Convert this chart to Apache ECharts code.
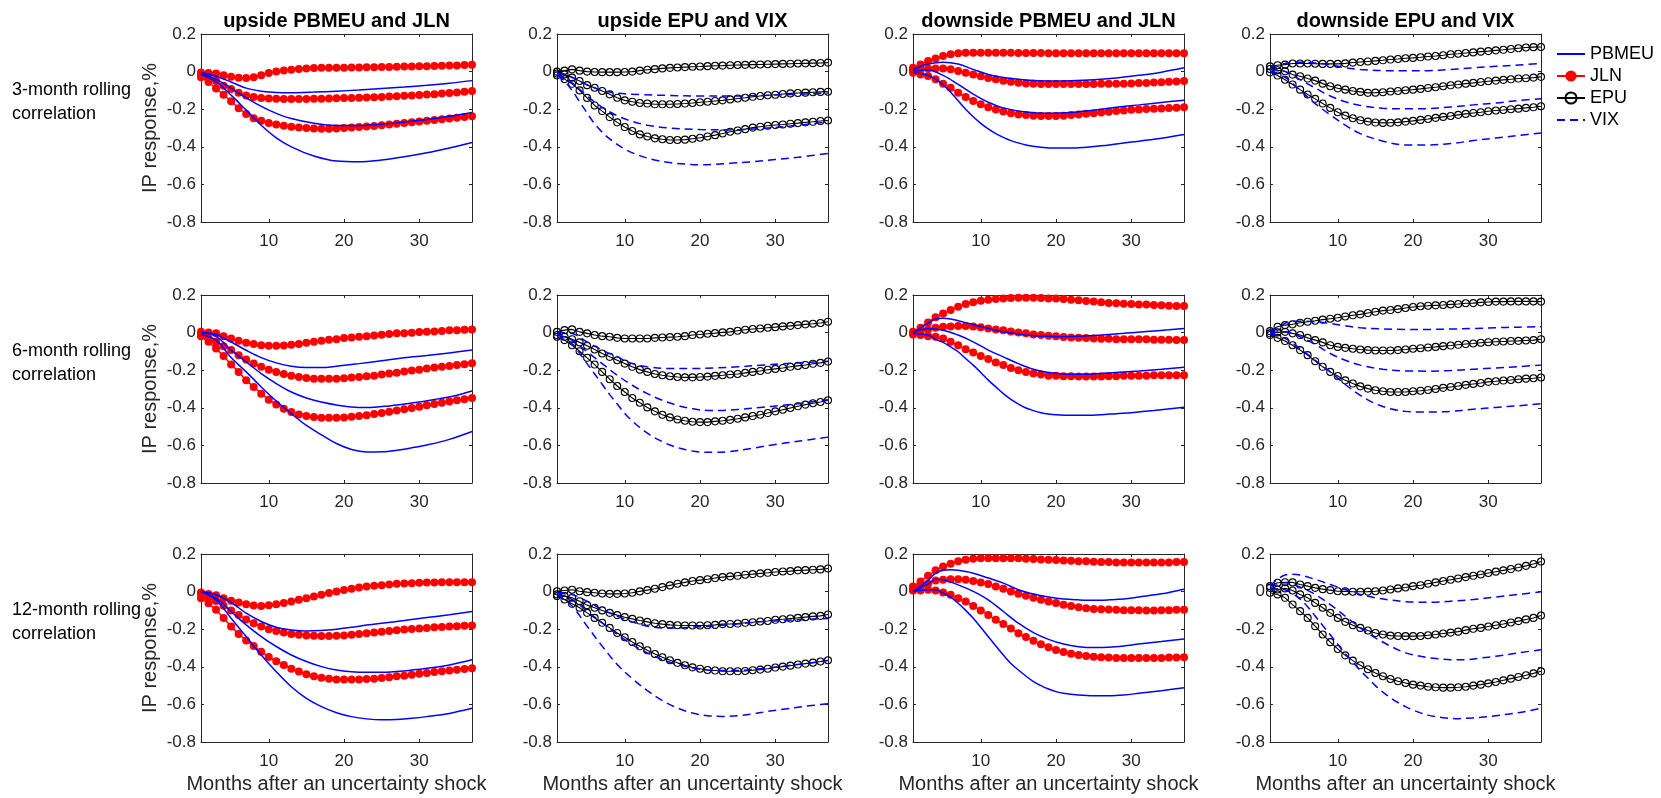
<!DOCTYPE html>
<html><head><meta charset="utf-8">
<script src="https://cdn.jsdelivr.net/npm/echarts@6/dist/echarts.min.js"></script>
<style>html,body{margin:0;padding:0;background:#fff}#c{width:1661px;height:798px}</style>
</head><body><div id="c"></div>
<script>
const months = [1,2,3,4,5,6,7,8,9,10,11,12,13,14,15,16,17,18,19,20,21,22,23,24,25,26,27,28,29,30,31,32,33,34,35,36,37];
const xTicks = [10,20,30];
const colTitles = ['upside PBMEU and JLN','upside EPU and VIX','downside PBMEU and JLN','downside EPU and VIX'];
const rowLabels = ['3-month rolling\ncorrelation','6-month rolling\ncorrelation','12-month rolling\ncorrelation'];
const legendNames = ['PBMEU','JLN','EPU','VIX'];
const yLabel = 'IP response,%';
const xLabel = 'Months after an uncertainty shock';

// ---------- Row 1: 3-month rolling correlation ----------
const r1c1_jln_up  = [-0.005,-0.008,-0.01,-0.02,-0.028,-0.033,-0.034,-0.03,-0.02,-0.008,0.0,0.006,0.01,0.014,0.017,0.019,0.02,0.021,0.021,0.021,0.022,0.022,0.023,0.023,0.024,0.025,0.026,0.027,0.027,0.028,0.029,0.03,0.031,0.032,0.033,0.035,0.037];
const r1c1_jln_mid = [-0.015,-0.03,-0.05,-0.075,-0.093,-0.113,-0.127,-0.135,-0.14,-0.143,-0.145,-0.146,-0.146,-0.146,-0.146,-0.145,-0.144,-0.143,-0.142,-0.141,-0.14,-0.139,-0.138,-0.137,-0.135,-0.133,-0.131,-0.129,-0.127,-0.125,-0.122,-0.12,-0.117,-0.114,-0.111,-0.107,-0.103];
const r1c1_jln_lo  = [-0.03,-0.055,-0.09,-0.123,-0.158,-0.195,-0.225,-0.248,-0.262,-0.274,-0.282,-0.288,-0.293,-0.297,-0.3,-0.302,-0.304,-0.304,-0.302,-0.3,-0.298,-0.295,-0.292,-0.289,-0.286,-0.282,-0.278,-0.274,-0.27,-0.266,-0.262,-0.258,-0.254,-0.25,-0.246,-0.242,-0.237];
const r1c1_pb_up  = [[1,-0.005],[3,-0.025],[5,-0.055],[7,-0.088],[9,-0.104],[11,-0.111],[13,-0.112],[16,-0.109],[19,-0.104],[22,-0.098],[25,-0.09],[28,-0.082],[31,-0.073],[34,-0.062],[37,-0.048]];
const r1c1_pb_mid = [[1,-0.01],[3,-0.04],[5,-0.088],[7,-0.14],[9,-0.185],[11,-0.222],[13,-0.25],[16,-0.275],[19,-0.287],[22,-0.287],[25,-0.28],[28,-0.268],[31,-0.255],[34,-0.238],[37,-0.217]];
const r1c1_pb_lo  = [[1,-0.015],[3,-0.055],[5,-0.125],[7,-0.205],[9,-0.285],[11,-0.352],[13,-0.4],[16,-0.449],[19,-0.476],[22,-0.48],[25,-0.47],[28,-0.453],[31,-0.432],[34,-0.406],[37,-0.377]];

const r1c2_epu_up  = [0.0,0.005,0.012,0.005,0.0,-0.002,-0.003,-0.003,-0.003,-0.002,0.0,0.005,0.01,0.013,0.017,0.02,0.022,0.024,0.026,0.027,0.029,0.031,0.032,0.034,0.035,0.036,0.037,0.038,0.039,0.04,0.041,0.042,0.043,0.044,0.045,0.046,0.048];
const r1c2_epu_mid = [-0.01,-0.015,-0.032,-0.05,-0.072,-0.086,-0.103,-0.121,-0.139,-0.153,-0.16,-0.167,-0.17,-0.174,-0.174,-0.174,-0.172,-0.17,-0.167,-0.163,-0.16,-0.156,-0.153,-0.148,-0.143,-0.139,-0.134,-0.13,-0.126,-0.123,-0.119,-0.116,-0.114,-0.112,-0.11,-0.108,-0.107];
const r1c2_epu_lo  = [-0.02,-0.04,-0.065,-0.1,-0.14,-0.18,-0.21,-0.242,-0.27,-0.295,-0.316,-0.334,-0.345,-0.355,-0.36,-0.364,-0.364,-0.362,-0.357,-0.352,-0.345,-0.338,-0.329,-0.32,-0.313,-0.306,-0.298,-0.293,-0.288,-0.284,-0.281,-0.277,-0.274,-0.27,-0.267,-0.263,-0.26];
const r1c2_vix_up  = [[1,-0.005],[3,-0.03],[5,-0.07],[7,-0.1],[9,-0.115],[12,-0.122],[16,-0.127],[20,-0.13],[24,-0.13],[28,-0.127],[32,-0.122],[37,-0.114]];
const r1c2_vix_mid = [[1,-0.01],[3,-0.06],[5,-0.13],[7,-0.19],[9,-0.235],[11,-0.265],[13,-0.285],[16,-0.3],[20,-0.308],[24,-0.31],[28,-0.303],[32,-0.29],[37,-0.268]];
const r1c2_vix_lo  = [[1,-0.02],[2,-0.05],[3,-0.1],[4,-0.16],[5,-0.22],[6,-0.278],[7,-0.322],[8,-0.358],[10,-0.412],[12,-0.447],[14,-0.47],[16,-0.484],[18,-0.492],[20,-0.495],[22,-0.493],[24,-0.488],[27,-0.479],[30,-0.467],[33,-0.456],[37,-0.435]];

const r1c3_jln_up  = [0.02,0.038,0.056,0.07,0.083,0.092,0.097,0.1,0.1,0.1,0.1,0.1,0.1,0.1,0.099,0.099,0.099,0.099,0.098,0.098,0.097,0.097,0.097,0.097,0.097,0.097,0.097,0.097,0.097,0.097,0.097,0.097,0.097,0.097,0.097,0.097,0.097];
const r1c3_jln_mid = [0.003,0.012,0.017,0.017,0.017,0.012,0.003,-0.006,-0.015,-0.025,-0.034,-0.041,-0.049,-0.054,-0.059,-0.063,-0.065,-0.066,-0.066,-0.066,-0.066,-0.066,-0.066,-0.066,-0.066,-0.065,-0.065,-0.065,-0.064,-0.063,-0.061,-0.06,-0.058,-0.056,-0.054,-0.052,-0.05];
const r1c3_jln_lo  = [-0.006,-0.015,-0.024,-0.041,-0.065,-0.086,-0.112,-0.135,-0.157,-0.174,-0.189,-0.201,-0.212,-0.221,-0.228,-0.231,-0.235,-0.236,-0.236,-0.236,-0.235,-0.231,-0.228,-0.224,-0.221,-0.217,-0.213,-0.21,-0.207,-0.203,-0.201,-0.199,-0.197,-0.196,-0.194,-0.192,-0.189];
const r1c3_pb_up  = [[1,0.01],[3,0.04],[5,0.05],[7,0.04],[9,0.012],[11,-0.015],[13,-0.032],[16,-0.045],[19,-0.05],[22,-0.049],[25,-0.044],[28,-0.034],[31,-0.02],[34,-0.003],[37,0.02]];
const r1c3_pb_mid = [[1,0.0],[3,0.008],[5,-0.02],[7,-0.068],[9,-0.12],[11,-0.163],[13,-0.193],[16,-0.215],[19,-0.222],[22,-0.218],[25,-0.205],[28,-0.19],[31,-0.177],[34,-0.164],[37,-0.152]];
const r1c3_pb_lo  = [[1,-0.005],[3,-0.02],[4,-0.04],[5,-0.07],[6,-0.11],[7,-0.155],[8,-0.2],[9,-0.24],[10,-0.275],[11,-0.305],[12,-0.33],[13,-0.35],[14,-0.367],[16,-0.39],[18,-0.402],[20,-0.407],[22,-0.407],[24,-0.402],[26,-0.395],[28,-0.385],[30,-0.375],[33,-0.36],[37,-0.334]];

const r1c4_epu_up  = [0.028,0.034,0.037,0.043,0.043,0.043,0.042,0.041,0.041,0.041,0.044,0.048,0.051,0.054,0.057,0.06,0.064,0.067,0.071,0.073,0.076,0.08,0.083,0.087,0.092,0.095,0.099,0.102,0.106,0.109,0.113,0.116,0.12,0.124,0.128,0.13,0.131];
const r1c4_epu_mid = [0.014,0.007,0.002,-0.016,-0.025,-0.037,-0.048,-0.064,-0.078,-0.089,-0.096,-0.103,-0.108,-0.113,-0.112,-0.11,-0.106,-0.103,-0.099,-0.096,-0.092,-0.087,-0.083,-0.078,-0.073,-0.069,-0.064,-0.06,-0.055,-0.051,-0.048,-0.044,-0.041,-0.037,-0.035,-0.032,-0.028];
const r1c4_epu_lo  = [-0.004,-0.021,-0.043,-0.069,-0.096,-0.122,-0.145,-0.17,-0.193,-0.216,-0.234,-0.248,-0.259,-0.266,-0.271,-0.273,-0.272,-0.27,-0.266,-0.262,-0.257,-0.252,-0.246,-0.241,-0.236,-0.23,-0.225,-0.22,-0.216,-0.211,-0.207,-0.204,-0.2,-0.197,-0.193,-0.19,-0.184];
const r1c4_vix_up  = [[1,0.02],[3,0.043],[5,0.05],[7,0.046],[9,0.037],[11,0.02],[13,0.011],[16,0.005],[19,0.004],[22,0.005],[25,0.011],[28,0.02],[31,0.028],[34,0.035],[37,0.043]];
const r1c4_vix_mid = [[1,0.01],[3,0.0],[5,-0.043],[7,-0.087],[9,-0.13],[11,-0.16],[13,-0.18],[16,-0.195],[19,-0.198],[22,-0.197],[25,-0.188],[28,-0.177],[31,-0.167],[34,-0.154],[37,-0.144]];
const r1c4_vix_lo  = [[1,0.0],[3,-0.03],[5,-0.1],[7,-0.17],[9,-0.23],[11,-0.285],[13,-0.33],[16,-0.37],[19,-0.39],[22,-0.39],[25,-0.383],[28,-0.367],[31,-0.353],[34,-0.34],[37,-0.326]];

// ---------- Row 2: 6-month rolling correlation ----------
const r2c1_jln_up  = [0.004,0.0,-0.004,-0.019,-0.031,-0.044,-0.054,-0.061,-0.067,-0.07,-0.07,-0.068,-0.065,-0.06,-0.054,-0.049,-0.044,-0.038,-0.035,-0.029,-0.026,-0.022,-0.019,-0.015,-0.012,-0.008,-0.004,-0.003,-0.001,0.003,0.004,0.006,0.008,0.012,0.013,0.015,0.017];
const r2c1_jln_mid = [-0.01,-0.031,-0.049,-0.072,-0.093,-0.12,-0.143,-0.165,-0.182,-0.197,-0.209,-0.22,-0.229,-0.236,-0.241,-0.245,-0.246,-0.246,-0.246,-0.243,-0.239,-0.236,-0.232,-0.229,-0.223,-0.218,-0.213,-0.207,-0.202,-0.197,-0.191,-0.186,-0.182,-0.177,-0.173,-0.168,-0.163];
const r2c1_jln_lo  = [-0.02,-0.049,-0.085,-0.125,-0.17,-0.209,-0.254,-0.289,-0.325,-0.357,-0.382,-0.405,-0.423,-0.436,-0.444,-0.449,-0.453,-0.453,-0.453,-0.451,-0.447,-0.444,-0.439,-0.433,-0.428,-0.421,-0.414,-0.408,-0.401,-0.394,-0.387,-0.38,-0.373,-0.367,-0.36,-0.355,-0.348];
const r2c1_pb_up  = [[1,0.0],[3,-0.01],[4,-0.03],[5,-0.05],[7,-0.094],[9,-0.133],[11,-0.161],[13,-0.179],[15,-0.186],[17,-0.186],[19,-0.179],[22,-0.165],[25,-0.15],[28,-0.134],[31,-0.122],[34,-0.108],[37,-0.093]];
const r2c1_pb_mid = [[1,0.0],[3,-0.02],[5,-0.093],[7,-0.156],[9,-0.218],[11,-0.271],[13,-0.316],[15,-0.348],[17,-0.369],[19,-0.385],[21,-0.396],[23,-0.399],[26,-0.39],[29,-0.375],[32,-0.356],[35,-0.333],[37,-0.311]];
const r2c1_pb_lo  = [[1,-0.01],[3,-0.04],[5,-0.133],[7,-0.209],[9,-0.289],[11,-0.364],[13,-0.431],[15,-0.494],[17,-0.544],[19,-0.59],[21,-0.622],[23,-0.635],[25,-0.634],[27,-0.626],[29,-0.613],[31,-0.598],[34,-0.568],[37,-0.526]];

const r2c2_epu_up  = [0.004,0.013,0.017,0.004,-0.004,-0.013,-0.019,-0.022,-0.028,-0.031,-0.031,-0.031,-0.031,-0.028,-0.026,-0.024,-0.022,-0.019,-0.013,-0.01,-0.006,-0.003,0.001,0.004,0.01,0.015,0.019,0.022,0.026,0.029,0.033,0.036,0.04,0.044,0.047,0.051,0.058];
const r2c2_epu_mid = [-0.013,-0.022,-0.035,-0.052,-0.07,-0.09,-0.111,-0.129,-0.147,-0.165,-0.182,-0.197,-0.209,-0.22,-0.227,-0.232,-0.236,-0.238,-0.238,-0.236,-0.234,-0.23,-0.227,-0.223,-0.22,-0.214,-0.209,-0.204,-0.198,-0.193,-0.188,-0.182,-0.177,-0.172,-0.166,-0.161,-0.154];
const r2c2_epu_lo  = [-0.022,-0.04,-0.067,-0.099,-0.134,-0.17,-0.209,-0.248,-0.284,-0.316,-0.348,-0.373,-0.398,-0.419,-0.437,-0.451,-0.462,-0.469,-0.474,-0.476,-0.476,-0.472,-0.469,-0.464,-0.458,-0.451,-0.444,-0.437,-0.428,-0.419,-0.41,-0.401,-0.392,-0.383,-0.376,-0.369,-0.36];
const r2c2_vix_up  = [[1,0.0],[3,-0.005],[5,-0.05],[7,-0.093],[9,-0.129],[11,-0.165],[13,-0.182],[16,-0.191],[19,-0.191],[22,-0.188],[25,-0.182],[28,-0.174],[31,-0.166],[34,-0.159],[37,-0.152]];
const r2c2_vix_mid = [[1,-0.01],[3,-0.04],[5,-0.102],[7,-0.165],[9,-0.227],[11,-0.28],[13,-0.325],[15,-0.36],[17,-0.387],[19,-0.405],[21,-0.414],[23,-0.414],[25,-0.409],[28,-0.398],[31,-0.387],[34,-0.373],[37,-0.357]];
const r2c2_vix_lo  = [[1,-0.02],[3,-0.06],[4,-0.11],[5,-0.165],[6,-0.22],[7,-0.275],[8,-0.33],[9,-0.38],[10,-0.43],[11,-0.47],[12,-0.505],[13,-0.535],[14,-0.56],[15,-0.58],[16,-0.598],[18,-0.622],[20,-0.635],[22,-0.637],[24,-0.632],[27,-0.615],[30,-0.595],[33,-0.578],[37,-0.556]];

const r2c3_jln_up  = [0.004,0.026,0.054,0.081,0.102,0.12,0.138,0.152,0.161,0.17,0.175,0.179,0.182,0.184,0.186,0.186,0.186,0.184,0.182,0.181,0.179,0.175,0.172,0.168,0.165,0.161,0.157,0.156,0.154,0.152,0.15,0.149,0.147,0.145,0.143,0.141,0.141];
const r2c3_jln_mid = [-0.004,0.004,0.017,0.026,0.031,0.033,0.035,0.035,0.033,0.029,0.022,0.017,0.012,0.006,0.001,-0.004,-0.01,-0.013,-0.017,-0.02,-0.024,-0.026,-0.028,-0.029,-0.031,-0.033,-0.033,-0.035,-0.035,-0.036,-0.036,-0.036,-0.038,-0.038,-0.038,-0.04,-0.04];
const r2c3_jln_lo  = [-0.01,-0.013,-0.019,-0.022,-0.031,-0.049,-0.067,-0.088,-0.106,-0.124,-0.141,-0.159,-0.173,-0.188,-0.2,-0.209,-0.218,-0.223,-0.229,-0.23,-0.232,-0.232,-0.234,-0.234,-0.234,-0.234,-0.232,-0.232,-0.23,-0.23,-0.229,-0.229,-0.227,-0.227,-0.227,-0.227,-0.227];
const r2c3_pb_up  = [[1,0.0],[3,0.05],[4,0.072],[5,0.076],[6,0.072],[7,0.063],[9,0.043],[11,0.022],[13,0.004],[15,-0.008],[17,-0.017],[19,-0.02],[21,-0.022],[23,-0.02],[26,-0.013],[29,-0.004],[32,0.006],[35,0.015],[37,0.022]];
const r2c3_pb_mid = [[1,0.0],[3,0.02],[5,0.013],[7,-0.013],[9,-0.049],[11,-0.093],[13,-0.129],[15,-0.165],[17,-0.195],[19,-0.212],[21,-0.22],[23,-0.222],[25,-0.22],[28,-0.212],[31,-0.204],[34,-0.195],[37,-0.184]];
const r2c3_pb_lo  = [[1,-0.005],[3,-0.013],[4,-0.036],[5,-0.052],[6,-0.076],[7,-0.102],[8,-0.138],[9,-0.173],[10,-0.212],[11,-0.253],[12,-0.289],[13,-0.325],[14,-0.355],[15,-0.38],[16,-0.401],[17,-0.415],[18,-0.426],[19,-0.433],[20,-0.437],[22,-0.44],[24,-0.44],[26,-0.437],[28,-0.431],[30,-0.426],[33,-0.415],[37,-0.397]];

const r2c4_epu_up  = [0.008,0.031,0.04,0.044,0.052,0.058,0.063,0.069,0.074,0.079,0.086,0.092,0.097,0.104,0.111,0.117,0.12,0.125,0.131,0.136,0.14,0.143,0.145,0.147,0.15,0.152,0.156,0.157,0.161,0.163,0.165,0.165,0.166,0.166,0.166,0.166,0.165];
const r2c4_epu_mid = [-0.004,0.001,0.004,-0.004,-0.013,-0.028,-0.04,-0.052,-0.067,-0.076,-0.081,-0.086,-0.09,-0.093,-0.095,-0.095,-0.095,-0.093,-0.09,-0.086,-0.083,-0.079,-0.076,-0.072,-0.069,-0.065,-0.061,-0.058,-0.054,-0.051,-0.049,-0.047,-0.045,-0.044,-0.042,-0.04,-0.035];
const r2c4_epu_lo  = [-0.013,-0.028,-0.045,-0.067,-0.093,-0.12,-0.152,-0.182,-0.209,-0.231,-0.254,-0.271,-0.286,-0.298,-0.307,-0.312,-0.316,-0.316,-0.316,-0.312,-0.309,-0.305,-0.3,-0.294,-0.289,-0.284,-0.278,-0.273,-0.268,-0.262,-0.259,-0.255,-0.252,-0.248,-0.245,-0.243,-0.239];
const r2c4_vix_up  = [[1,0.005],[3,0.049],[4,0.061],[5,0.061],[7,0.058],[9,0.049],[11,0.036],[13,0.026],[16,0.019],[19,0.017],[22,0.017],[25,0.019],[28,0.022],[31,0.026],[34,0.029],[37,0.031]];
const r2c4_vix_mid = [[1,0.0],[3,0.004],[5,-0.022],[7,-0.063],[9,-0.111],[11,-0.147],[13,-0.173],[16,-0.195],[19,-0.204],[22,-0.205],[25,-0.202],[28,-0.195],[31,-0.188],[34,-0.181],[37,-0.173]];
const r2c4_vix_lo  = [[1,-0.005],[3,-0.031],[5,-0.085],[7,-0.147],[9,-0.209],[11,-0.276],[13,-0.334],[15,-0.378],[17,-0.405],[19,-0.419],[21,-0.422],[23,-0.422],[25,-0.419],[28,-0.408],[31,-0.398],[34,-0.389],[37,-0.378]];

// ---------- Row 3: 12-month rolling correlation ----------
const r3c1_jln_up  = [-0.005,-0.013,-0.019,-0.035,-0.049,-0.058,-0.067,-0.074,-0.076,-0.072,-0.067,-0.061,-0.053,-0.044,-0.035,-0.026,-0.017,-0.008,0.001,0.008,0.015,0.022,0.027,0.031,0.034,0.038,0.042,0.043,0.045,0.047,0.049,0.049,0.05,0.05,0.05,0.05,0.05];
const r3c1_jln_mid = [-0.015,-0.03,-0.05,-0.075,-0.1,-0.125,-0.148,-0.168,-0.185,-0.2,-0.21,-0.218,-0.225,-0.23,-0.233,-0.235,-0.236,-0.236,-0.235,-0.233,-0.23,-0.226,-0.222,-0.218,-0.214,-0.21,-0.206,-0.202,-0.199,-0.196,-0.193,-0.19,-0.188,-0.186,-0.184,-0.182,-0.18];
const r3c1_jln_lo  = [-0.035,-0.062,-0.097,-0.14,-0.185,-0.225,-0.26,-0.29,-0.32,-0.348,-0.37,-0.39,-0.41,-0.425,-0.44,-0.45,-0.458,-0.463,-0.467,-0.468,-0.468,-0.467,-0.465,-0.463,-0.46,-0.455,-0.45,-0.447,-0.442,-0.437,-0.433,-0.428,-0.424,-0.42,-0.416,-0.412,-0.408];
const r3c1_pb_up  = [[1,0.0],[3,-0.017],[5,-0.058],[7,-0.115],[9,-0.159],[11,-0.19],[13,-0.204],[15,-0.209],[17,-0.207],[19,-0.2],[21,-0.19],[23,-0.178],[25,-0.168],[28,-0.154],[31,-0.138],[34,-0.123],[37,-0.106]];
const r3c1_pb_mid = [[1,0.0],[3,-0.035],[5,-0.106],[7,-0.177],[9,-0.239],[11,-0.292],[13,-0.337],[15,-0.372],[17,-0.399],[19,-0.417],[21,-0.426],[23,-0.429],[25,-0.429],[28,-0.422],[31,-0.408],[34,-0.39],[37,-0.363]];
const r3c1_pb_lo  = [[1,0.0],[3,-0.044],[5,-0.142],[7,-0.239],[9,-0.337],[11,-0.426],[13,-0.506],[15,-0.568],[17,-0.612],[19,-0.644],[21,-0.665],[23,-0.677],[25,-0.682],[27,-0.68],[29,-0.674],[31,-0.665],[34,-0.648],[37,-0.621]];

const r3c2_epu_up  = [0.002,0.006,0.01,0.002,-0.003,-0.006,-0.01,-0.012,-0.012,-0.01,-0.006,0.001,0.008,0.015,0.024,0.033,0.042,0.049,0.056,0.061,0.066,0.072,0.077,0.081,0.084,0.09,0.093,0.097,0.1,0.104,0.107,0.109,0.113,0.114,0.116,0.118,0.123];
const r3c2_epu_mid = [-0.015,-0.024,-0.033,-0.051,-0.072,-0.086,-0.1,-0.113,-0.125,-0.136,-0.145,-0.154,-0.161,-0.168,-0.173,-0.177,-0.179,-0.18,-0.18,-0.18,-0.179,-0.177,-0.173,-0.172,-0.17,-0.166,-0.163,-0.159,-0.156,-0.15,-0.147,-0.143,-0.14,-0.136,-0.132,-0.129,-0.122];
const r3c2_epu_lo  = [-0.024,-0.042,-0.065,-0.086,-0.113,-0.14,-0.166,-0.193,-0.22,-0.243,-0.268,-0.291,-0.312,-0.332,-0.349,-0.365,-0.379,-0.392,-0.403,-0.41,-0.417,-0.42,-0.424,-0.424,-0.424,-0.422,-0.418,-0.415,-0.41,-0.404,-0.399,-0.394,-0.388,-0.383,-0.378,-0.372,-0.365];
const r3c2_vix_up  = [[1,-0.005],[3,-0.015],[5,-0.051],[7,-0.095],[9,-0.131],[11,-0.161],[13,-0.184],[15,-0.193],[17,-0.193],[19,-0.189],[22,-0.182],[25,-0.172],[28,-0.161],[31,-0.154],[34,-0.148],[37,-0.143]];
const r3c2_vix_mid = [[1,-0.01],[3,-0.042],[5,-0.104],[7,-0.166],[9,-0.228],[11,-0.282],[13,-0.326],[15,-0.362],[17,-0.388],[19,-0.406],[21,-0.417],[23,-0.42],[25,-0.42],[28,-0.41],[31,-0.397],[34,-0.383],[37,-0.367]];
const r3c2_vix_lo  = [[1,-0.015],[3,-0.077],[5,-0.184],[7,-0.29],[9,-0.388],[11,-0.463],[13,-0.527],[15,-0.58],[17,-0.619],[19,-0.646],[21,-0.66],[23,-0.664],[25,-0.66],[27,-0.651],[29,-0.637],[31,-0.626],[34,-0.61],[37,-0.596]];

const r3c3_jln_up  = [0.027,0.054,0.084,0.113,0.134,0.148,0.161,0.169,0.175,0.178,0.178,0.178,0.178,0.178,0.177,0.175,0.173,0.171,0.169,0.168,0.166,0.164,0.162,0.161,0.159,0.157,0.157,0.155,0.155,0.155,0.155,0.155,0.155,0.155,0.155,0.157,0.157];
const r3c3_jln_mid = [0.013,0.027,0.042,0.059,0.063,0.066,0.066,0.063,0.056,0.049,0.04,0.027,0.015,0.001,-0.012,-0.022,-0.033,-0.044,-0.053,-0.061,-0.07,-0.077,-0.083,-0.088,-0.092,-0.094,-0.095,-0.097,-0.099,-0.099,-0.099,-0.1,-0.1,-0.099,-0.099,-0.097,-0.097];
const r3c3_jln_lo  = [0.006,0.006,0.01,0.006,-0.005,-0.017,-0.035,-0.053,-0.076,-0.1,-0.124,-0.15,-0.173,-0.196,-0.221,-0.242,-0.262,-0.28,-0.296,-0.31,-0.321,-0.33,-0.337,-0.342,-0.346,-0.349,-0.351,-0.353,-0.353,-0.353,-0.353,-0.353,-0.353,-0.353,-0.351,-0.351,-0.349];
const r3c3_pb_up  = [[1,0.0],[3,0.06],[4,0.098],[5,0.113],[6,0.116],[7,0.113],[9,0.098],[11,0.072],[13,0.045],[15,0.01],[17,-0.013],[19,-0.029],[21,-0.04],[23,-0.044],[25,-0.046],[27,-0.044],[29,-0.04],[31,-0.029],[34,-0.012],[37,0.013]];
const r3c3_pb_mid = [[1,0.0],[3,0.04],[4,0.066],[5,0.063],[7,0.036],[9,0.001],[11,-0.044],[13,-0.106],[15,-0.168],[17,-0.218],[19,-0.254],[21,-0.279],[23,-0.293],[25,-0.298],[27,-0.296],[29,-0.289],[31,-0.279],[34,-0.266],[37,-0.252]];
const r3c3_pb_lo  = [[1,0.0],[3,0.01],[4,0.01],[5,-0.008],[6,-0.03],[7,-0.062],[8,-0.1],[9,-0.142],[10,-0.19],[11,-0.24],[12,-0.289],[13,-0.337],[14,-0.382],[15,-0.417],[16,-0.449],[17,-0.479],[18,-0.5],[19,-0.518],[20,-0.532],[21,-0.541],[23,-0.55],[25,-0.554],[27,-0.554],[29,-0.55],[31,-0.541],[34,-0.527],[37,-0.511]];

const r3c4_epu_up  = [0.029,0.047,0.05,0.049,0.038,0.029,0.02,0.013,0.008,0.002,0.001,-0.001,-0.001,0.0,0.002,0.006,0.011,0.017,0.022,0.029,0.034,0.042,0.049,0.056,0.063,0.07,0.077,0.084,0.091,0.099,0.106,0.113,0.12,0.128,0.137,0.147,0.16];
const r3c4_epu_mid = [0.02,0.011,0.017,0.006,-0.015,-0.033,-0.06,-0.086,-0.113,-0.14,-0.161,-0.179,-0.193,-0.207,-0.22,-0.228,-0.234,-0.236,-0.237,-0.237,-0.236,-0.232,-0.228,-0.223,-0.218,-0.213,-0.205,-0.198,-0.193,-0.186,-0.179,-0.172,-0.164,-0.157,-0.148,-0.14,-0.127];
const r3c4_epu_lo  = [-0.006,-0.015,-0.033,-0.069,-0.104,-0.14,-0.184,-0.228,-0.269,-0.305,-0.339,-0.367,-0.392,-0.413,-0.433,-0.45,-0.465,-0.477,-0.486,-0.495,-0.5,-0.506,-0.509,-0.511,-0.511,-0.509,-0.506,-0.5,-0.495,-0.488,-0.481,-0.472,-0.463,-0.454,-0.445,-0.435,-0.424];
const r3c4_vix_up  = [[1,0.03],[2,0.065],[3,0.088],[4,0.092],[5,0.088],[7,0.065],[9,0.038],[11,0.011],[13,-0.015],[15,-0.033],[17,-0.045],[19,-0.054],[21,-0.056],[23,-0.056],[25,-0.051],[28,-0.042],[31,-0.029],[34,-0.015],[37,-0.001]];
const r3c4_vix_mid = [[1,0.02],[3,0.047],[4,0.038],[5,0.024],[7,-0.015],[9,-0.069],[11,-0.131],[13,-0.193],[15,-0.246],[17,-0.29],[19,-0.326],[21,-0.344],[23,-0.356],[25,-0.362],[27,-0.362],[29,-0.353],[31,-0.344],[34,-0.326],[37,-0.309]];
const r3c4_vix_lo  = [[1,0.01],[2,0.015],[3,0.01],[4,-0.01],[5,-0.04],[6,-0.08],[7,-0.13],[8,-0.18],[9,-0.23],[10,-0.28],[11,-0.33],[12,-0.375],[13,-0.42],[14,-0.46],[15,-0.5],[16,-0.535],[17,-0.565],[18,-0.59],[19,-0.612],[20,-0.63],[21,-0.645],[22,-0.657],[23,-0.665],[24,-0.671],[25,-0.674],[26,-0.676],[27,-0.674],[29,-0.669],[31,-0.66],[33,-0.65],[35,-0.637],[37,-0.62]];

// panel definitions: marker series (JLN / EPU) and line series (PBMEU / VIX)
const panels = [
  [ {mk:'JLN', m:[r1c1_jln_up,r1c1_jln_mid,r1c1_jln_lo], ln:'PBMEU', l:[r1c1_pb_up,r1c1_pb_mid,r1c1_pb_lo]},
    {mk:'EPU', m:[r1c2_epu_up,r1c2_epu_mid,r1c2_epu_lo], ln:'VIX', l:[r1c2_vix_up,r1c2_vix_mid,r1c2_vix_lo]},
    {mk:'JLN', m:[r1c3_jln_up,r1c3_jln_mid,r1c3_jln_lo], ln:'PBMEU', l:[r1c3_pb_up,r1c3_pb_mid,r1c3_pb_lo]},
    {mk:'EPU', m:[r1c4_epu_up,r1c4_epu_mid,r1c4_epu_lo], ln:'VIX', l:[r1c4_vix_up,r1c4_vix_mid,r1c4_vix_lo]} ],
  [ {mk:'JLN', m:[r2c1_jln_up,r2c1_jln_mid,r2c1_jln_lo], ln:'PBMEU', l:[r2c1_pb_up,r2c1_pb_mid,r2c1_pb_lo]},
    {mk:'EPU', m:[r2c2_epu_up,r2c2_epu_mid,r2c2_epu_lo], ln:'VIX', l:[r2c2_vix_up,r2c2_vix_mid,r2c2_vix_lo]},
    {mk:'JLN', m:[r2c3_jln_up,r2c3_jln_mid,r2c3_jln_lo], ln:'PBMEU', l:[r2c3_pb_up,r2c3_pb_mid,r2c3_pb_lo]},
    {mk:'EPU', m:[r2c4_epu_up,r2c4_epu_mid,r2c4_epu_lo], ln:'VIX', l:[r2c4_vix_up,r2c4_vix_mid,r2c4_vix_lo]} ],
  [ {mk:'JLN', m:[r3c1_jln_up,r3c1_jln_mid,r3c1_jln_lo], ln:'PBMEU', l:[r3c1_pb_up,r3c1_pb_mid,r3c1_pb_lo]},
    {mk:'EPU', m:[r3c2_epu_up,r3c2_epu_mid,r3c2_epu_lo], ln:'VIX', l:[r3c2_vix_up,r3c2_vix_mid,r3c2_vix_lo]},
    {mk:'JLN', m:[r3c3_jln_up,r3c3_jln_mid,r3c3_jln_lo], ln:'PBMEU', l:[r3c3_pb_up,r3c3_pb_mid,r3c3_pb_lo]},
    {mk:'EPU', m:[r3c4_epu_up,r3c4_epu_mid,r3c4_epu_lo], ln:'VIX', l:[r3c4_vix_up,r3c4_vix_mid,r3c4_vix_lo]} ]
];

// ---------- layout ----------
const FONT = '"Liberation Sans", Arial, Helvetica, sans-serif';
const colLeft = [201, 557, 913, 1270];
const rowTop = [34, 295, 554];
const PW = 271, PH = 188;
const AX = '#262626';

const grid = [], xAxis = [], yAxis = [], series = [], graphic = [];
let gi = 0;
for (let r = 0; r < 3; r++) {
  for (let c = 0; c < 4; c++) {
    grid.push({left: colLeft[c], top: rowTop[r], width: PW, height: PH, containLabel: false});
    const xb = {
      gridIndex: gi, type: 'value', min: 1, max: 37, position: 'bottom',
      axisLine: {show: true, onZero: false, lineStyle: {color: AX, width: 1}},
      axisTick: {show: true, inside: true, length: 3, customValues: xTicks, lineStyle: {color: AX}},
      axisLabel: {show: true, customValues: xTicks, fontSize: 17, color: AX, margin: 11, fontFamily: FONT},
      splitLine: {show: false}
    };
    if (r === 2) {
      xb.name = xLabel; xb.nameLocation = 'middle'; xb.nameGap = 32;
      xb.nameTextStyle = {fontSize: 20, color: AX, fontFamily: FONT};
    }
    xAxis.push(xb);
    xAxis.push({
      gridIndex: gi, type: 'value', min: 1, max: 37, position: 'top',
      axisLine: {show: true, onZero: false, lineStyle: {color: AX, width: 1}},
      axisTick: {show: true, inside: true, length: 3, customValues: xTicks, lineStyle: {color: AX}},
      axisLabel: {show: false}, splitLine: {show: false}
    });
    const yl = {
      gridIndex: gi, type: 'value', min: -0.8, max: 0.2, interval: 0.2, position: 'left',
      axisLine: {show: true, onZero: false, lineStyle: {color: AX, width: 1}},
      axisTick: {show: true, inside: true, length: 3, lineStyle: {color: AX}},
      axisLabel: {show: true, fontSize: 17, color: AX, margin: 5, fontFamily: FONT,
        formatter: v => String(Math.round(v * 10) / 10)},
      splitLine: {show: false}
    };
    if (c === 0) {
      yl.name = yLabel; yl.nameLocation = 'middle'; yl.nameGap = 41; yl.nameRotate = 90;
      yl.nameTextStyle = {fontSize: 20, color: AX, fontFamily: FONT};
    }
    yAxis.push(yl);
    yAxis.push({
      gridIndex: gi, type: 'value', min: -0.8, max: 0.2, interval: 0.2, position: 'right',
      axisLine: {show: true, onZero: false, lineStyle: {color: AX, width: 1}},
      axisTick: {show: true, inside: true, length: 3, lineStyle: {color: AX}},
      axisLabel: {show: false}, splitLine: {show: false}
    });

    const p = panels[r][c];
    p.m.forEach(arr => {
      const data = arr.map((v, k) => [months[k], v]);
      if (p.mk === 'JLN') {
        series.push({type: 'line', name: 'JLN', xAxisIndex: 2 * gi, yAxisIndex: 2 * gi, data,
          symbol: 'circle', symbolSize: 8, showSymbol: true, z: 2,
          itemStyle: {color: '#ff0000'}, lineStyle: {color: '#ff0000', width: 1.5}, silent: true});
      } else {
        series.push({type: 'line', name: 'EPU', xAxisIndex: 2 * gi, yAxisIndex: 2 * gi, data,
          symbol: 'circle', symbolSize: 7, showSymbol: true, z: 2,
          itemStyle: {color: 'rgba(255,255,255,0)', borderColor: '#000000', borderWidth: 1.1},
          lineStyle: {color: '#000000', width: 1.1}, silent: true});
      }
    });
    p.l.forEach(pairs => {
      series.push({type: 'line', name: p.ln, xAxisIndex: 2 * gi, yAxisIndex: 2 * gi, data: pairs,
        symbol: 'none', smooth: 0.35, z: 3, silent: true,
        itemStyle: {color: '#0000ff'},
        lineStyle: {color: '#0000ff', width: 1.5, type: p.ln === 'VIX' ? [8, 5] : 'solid'}});
    });
    gi++;
  }
}

colTitles.forEach((t, c) => {
  graphic.push({type: 'text', x: colLeft[c] + PW / 2, y: 21,
    style: {text: t, textAlign: 'center', textVerticalAlign: 'middle', fill: '#000',
      font: 'bold 20px ' + FONT}});
});
rowLabels.forEach((t, r) => {
  graphic.push({type: 'text', x: 12, y: rowTop[r] + 44,
    style: {text: t, fill: '#000', font: '18px ' + FONT, lineHeight: 24, textVerticalAlign: 'top'}});
});

const chart = echarts.init(document.getElementById('c'), null, {renderer: 'canvas'});
chart.setOption({
  animation: false,
  backgroundColor: '#ffffff',
  grid, xAxis, yAxis, series, graphic,
  legend: {
    data: [
      {name: legendNames[0], itemStyle: {opacity: 0}},
      legendNames[1],
      legendNames[2],
      {name: legendNames[3], itemStyle: {opacity: 0}}
    ],
    orient: 'vertical', left: 1551, top: 40,
    itemWidth: 28, itemHeight: 14, itemGap: 4,
    textStyle: {fontSize: 18, color: '#000', fontFamily: FONT},
    selectedMode: false
  },
  tooltip: {show: false}
});
</script>
</body></html>
